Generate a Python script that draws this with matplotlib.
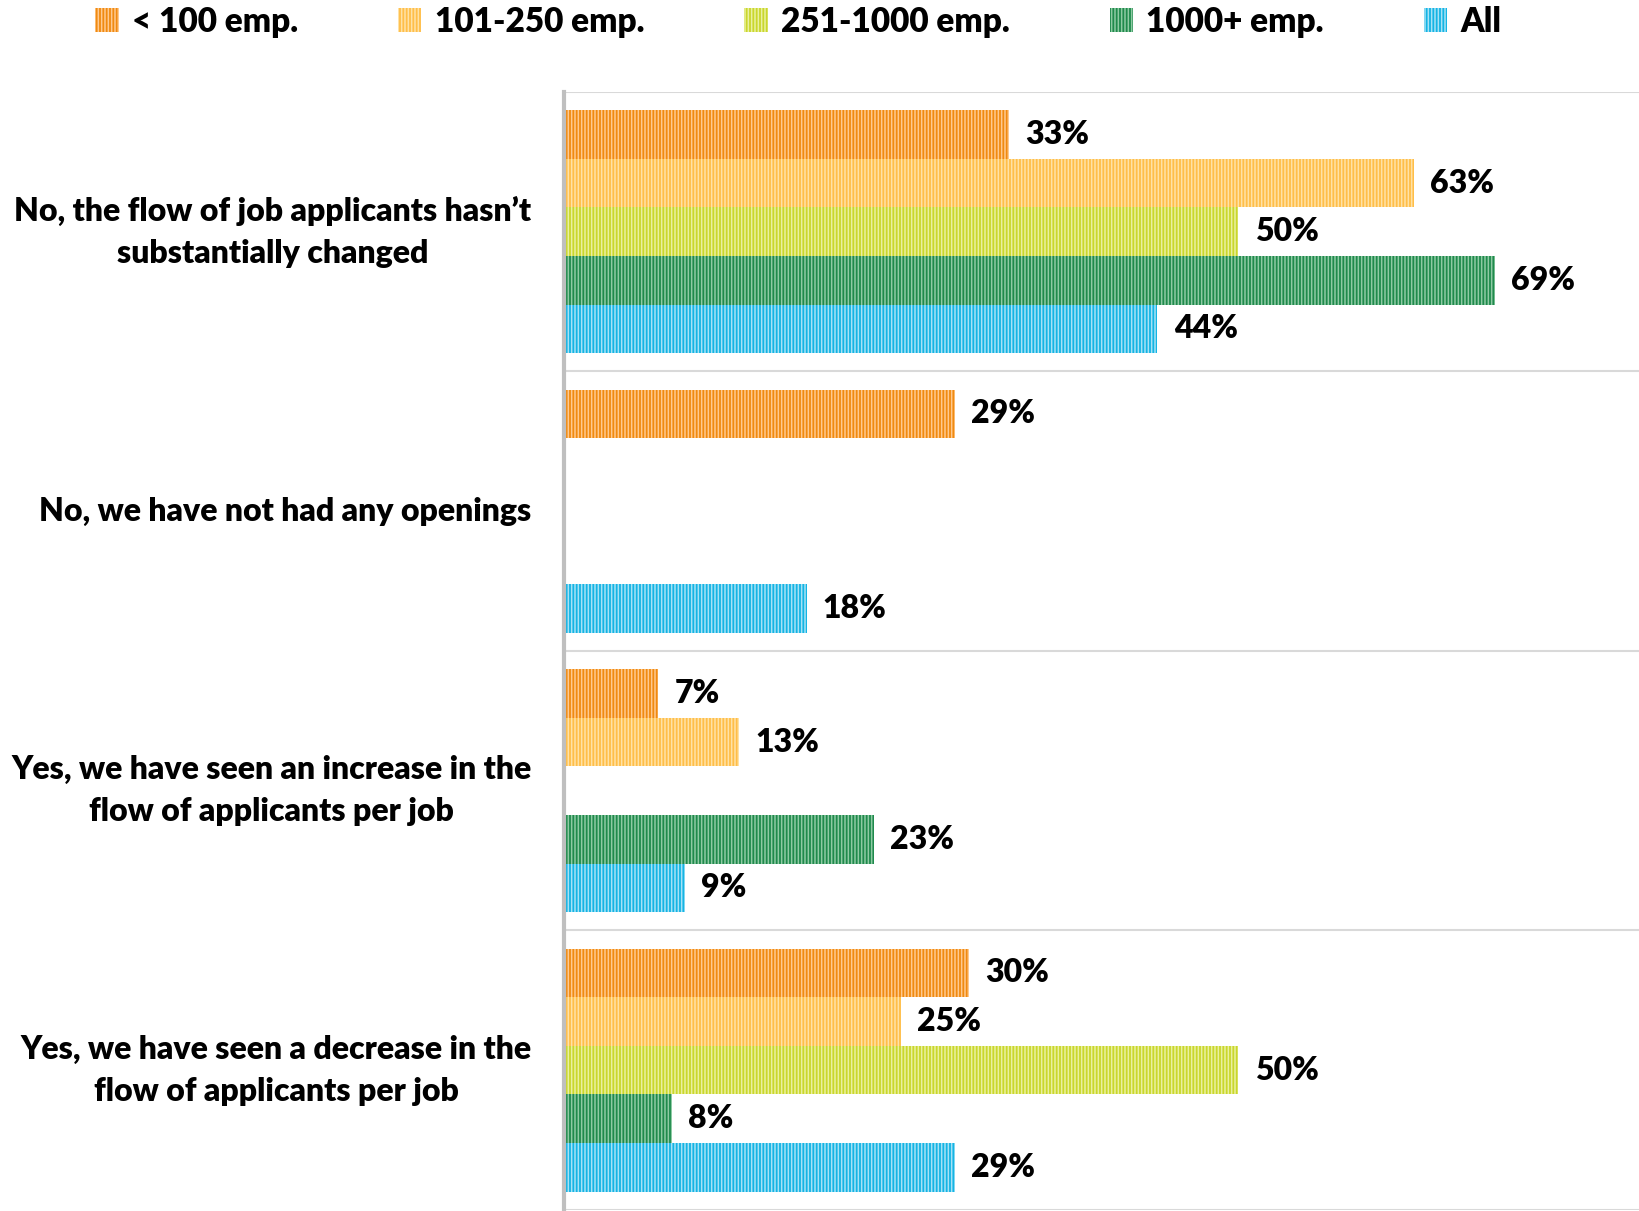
import numpy as np
import matplotlib
matplotlib.use("Agg")
import matplotlib.pyplot as plt
from matplotlib.patches import Patch

plt.rcParams['font.family'] = ['Lato', 'DejaVu Sans']
plt.rcParams['hatch.linewidth'] = 1.1

categories = ["No, the flow of job applicants hasn\u2019t\nsubstantially changed",
              "No, we have not had any openings",
              "Yes, we have seen an increase in the\nflow of applicants per job",
              "Yes, we have seen a decrease in the\nflow of applicants per job"]
series = ["< 100 emp.", "101-250 emp.", "251-1000 emp.", "1000+ emp.", "All"]
lt100 = [33, 29, 7, 30]
e101_250 = [63, np.nan, 13, 25]
e251_1000 = [50, np.nan, np.nan, 50]
e1000p = [69, np.nan, 23, 8]
all_emp = [44, 18, 9, 29]
values = [lt100, e101_250, e251_1000, e1000p, all_emp]

fills = ["#F08A10", "#FFBE48", "#C9D72C", "#1F8A4C", "#14B4E4"]
stripes = ["#FFC98F", "#FFE2A6", "#EAF0A0", "#8FCBA4", "#A6E2F6"]

fig = plt.figure(figsize=(16.39, 12.11), dpi=100)
ax = fig.add_axes([0.344, 0.001, 0.656, 0.923])

y = np.arange(len(categories))
h = 0.174
for j, (name, vals) in enumerate(zip(series, values)):
    vals = np.array(vals, dtype=float)
    pos = y + (j - 2) * h
    ax.barh(pos, np.nan_to_num(vals), height=h, color=fills[j],
            edgecolor=stripes[j], linewidth=0, hatch='|||||')
    for p, v in zip(pos, vals):
        if not np.isnan(v):
            ax.text(v + 1.2, p, f"{v:.0f}%", va='center', ha='left',
                    fontsize=23, fontweight='heavy')

ax.set_xlim(0, 79.7)
ax.set_ylim(3.5, -0.5)
for b in np.arange(-0.5, 4, 1):
    ax.axhline(b, color='#d9d9d9', lw=1.5, zorder=0)

ax.set_xticks([])
ax.set_yticks([])
for s in ['top', 'right', 'bottom']:
    ax.spines[s].set_visible(False)
ax.spines['left'].set_color('#bfbfbf')
ax.spines['left'].set_linewidth(3)

for i, c in enumerate(categories):
    ax.text(-0.03, i, c, transform=ax.get_yaxis_transform(), ha='right',
            va='center', multialignment='center', fontsize=23,
            fontweight='heavy', linespacing=1.55)

handles = [Patch(facecolor=fills[j], edgecolor=stripes[j], linewidth=0,
                 hatch='|||||') for j in range(len(series))]
fig.legend(handles, series, loc='center left', bbox_to_anchor=(0.05, 0.982),
           ncol=5, frameon=False, prop={'weight': 'heavy', 'size': 24},
           handlelength=0.7, handleheight=0.7, handletextpad=0.4,
           columnspacing=3.0, borderaxespad=0)

fig.savefig("out.png", dpi=100)
